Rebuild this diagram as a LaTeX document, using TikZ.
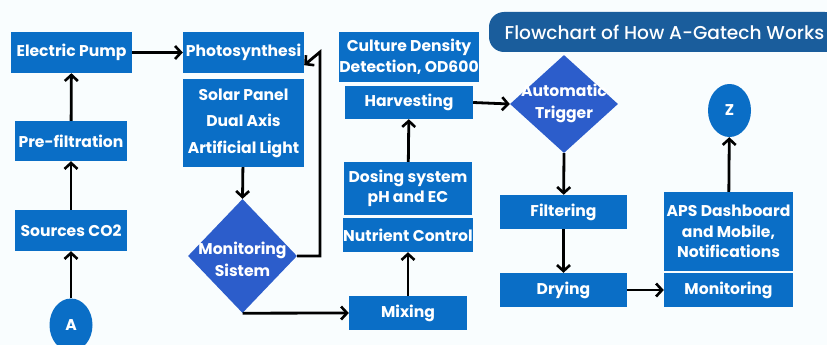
\documentclass[tikz,border=0pt]{standalone}
\usepackage{fontspec}
\setmainfont{Poppins}
\newfontfamily\titlefont{Poppins Medium}
\usetikzlibrary{arrows.meta}
\usetikzlibrary{shapes.geometric}
\definecolor{boxblue}{HTML}{0A6EC6}
\definecolor{diablue}{HTML}{2C5DCB}
\definecolor{titleblue}{HTML}{1A5D9C}
\definecolor{paper}{HTML}{F9FDFE}
\tikzset{
  box/.style={fill=boxblue, text=white, inner sep=0pt, align=center,
    font=\fontsize{15.6}{20.5}\selectfont\bfseries},
  dia/.style={diamond, fill=diablue, inner sep=0pt},
  diatext/.style={text=white, align=center, inner sep=0pt,
    font=\fontsize{15.6}{22}\selectfont\bfseries},
  endpoint/.style={ellipse, fill=boxblue, text=white, inner sep=0pt,
    minimum width=43pt, minimum height=53pt, font=\fontsize{15.6}{19}\selectfont\bfseries},
  link/.style={line width=2.8pt, -{Straight Barb[length=6pt,width=13pt,line width=2.6pt]}},
}

\begin{document}
\begin{tikzpicture}[x=1pt,y=-1pt]
\useasboundingbox (0,0) rectangle (827,345);
\fill[paper] (0,0) rectangle (827,345);
\node[fill=titleblue, text=white, rounded corners=15pt, minimum width=351pt, minimum height=40pt,
  inner sep=0pt, font=\fontsize{18.6}{22}\titlefont] (title) at (664.5,32) {Flowchart of How A-Gatech Works};
\node[box, minimum width=121pt, minimum height=41pt] (pump) at (71.5,52.5) {Electric Pump};
\node[box, minimum width=112pt, minimum height=40pt] (prefilt) at (71,141) {Pre-filtration};
\node[box, minimum width=112pt, minimum height=41pt] (src) at (71,230.5) {Sources CO2};
\node[endpoint] (a) at (71,325) {A};
\node[box, minimum width=121pt, minimum height=41pt] (photo) at (243.5,52.5) {Photosynthesi};
\node[box, minimum width=121pt, minimum height=88pt] (solar) at (243.5,123) {Solar Panel\\[6pt]Dual Axis\\[6pt]Artificial Light};
\node[dia, minimum width=109pt, minimum height=114pt] (mon) at (242.5,256) {};
\node[diatext] (mon-t) at (242.5,259) {Monitoring\\Sistem};
\node[box, minimum width=118pt, minimum height=34pt] (mix) at (408,313) {Mixing};
\node[box, minimum width=128pt, minimum height=34pt] (nutr) at (408,235) {Nutrient Control};
\node[box, minimum width=128pt, minimum height=53pt] (dose) at (408,188.5) {Dosing system\\pH and EC};
\node[box, minimum width=128pt, minimum height=33pt] (harv) at (409,102.5) {Harvesting};
\node[box, minimum width=128pt, minimum height=50pt] (cult) at (409,57) {Culture Density\\Detection, OD600};
\node[dia, minimum width=108pt, minimum height=98pt] (trig) at (564,104) {};
\node[diatext] (trig-t) at (564,103) {Automatic\\Trigger};
\node[box, minimum width=127pt, minimum height=34pt] (filt) at (563.5,212) {Filtering};
\node[box, minimum width=127pt, minimum height=34pt] (dry) at (563.5,290) {Drying};
\node[box, minimum width=129pt, minimum height=34pt] (moni) at (728.5,290) {Monitoring};
\node[box, minimum width=129pt, minimum height=79pt] (aps) at (728.5,231.5) {APS Dashboard\\and Mobile,\\Notifications};
\node[endpoint] (z) at (729.5,110.5) {Z};
\coordinate (back) at (320,52);
\draw[link] (a) -- (src);
\draw[link] (src) -- (prefilt);
\draw[link] (prefilt) -- (pump);
\draw[link] (pump) -- (photo);
\draw[link] (solar) -- (mon.north);
\draw[link] (mon.east) -| (back) -- ([yshift=8pt]photo.south east);
\draw[link] (mon.south) -- (mix.west);
\draw[link] (mix) -- (nutr);
\draw[link] (dose) -- (harv);
\draw[link] (harv.east) -- (trig.west);
\draw[link] (trig.south) -- (filt);
\draw[link] (filt) -- (dry);
\draw[link] (dry) -- (moni);
\draw[link] (aps) -- (z);
\end{tikzpicture}
\end{document}
